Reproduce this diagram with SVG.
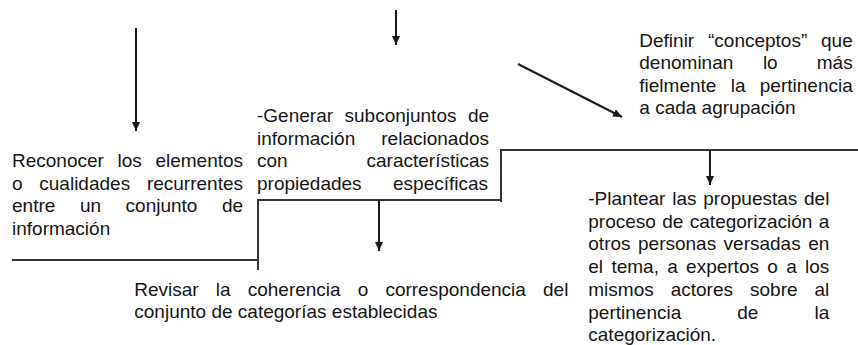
<svg xmlns="http://www.w3.org/2000/svg" width="858" height="345" viewBox="0 0 858 345">
<style>
.t{font-family:"Liberation Sans",Arial,sans-serif;font-size:19px;fill:#151515}
.ln{fill:none;stroke:#333;stroke-width:2}
.ar{fill:none;stroke:#1a1a1a;stroke-width:2}
</style>
<defs>
<marker id="ah" markerUnits="userSpaceOnUse" markerWidth="10" markerHeight="10" viewBox="0 0 10 10" refX="9" refY="5" orient="auto">
<path d="M0,1 L9,5 L0,9 Z" fill="#1a1a1a"/>
</marker>
</defs>
<rect width="858" height="345" fill="#fff"/>
<g id="connectors">
<polyline class="ln" points="12,260 258,260"/>
<polyline class="ln" points="258,270 258,200 501,200"/>
<polyline class="ln" points="501,202 501,150 858,150"/>
<line class="ar" x1="136" y1="28" x2="136" y2="131" marker-end="url(#ah)"/>
<line class="ar" x1="396" y1="10" x2="396" y2="45" marker-end="url(#ah)"/>
<line class="ar" x1="518" y1="64" x2="622" y2="117" marker-end="url(#ah)"/>
<line class="ar" x1="379" y1="200" x2="379" y2="251" marker-end="url(#ah)"/>
<line class="ar" x1="710" y1="150" x2="710" y2="185" marker-end="url(#ah)"/>
</g>
<g id="node-reconocer">
<text class="t"><tspan x="12" y="167">Reconocer</tspan><tspan x="117.5" y="167">los</tspan><tspan x="155.4" y="167">elementos</tspan><tspan x="12" y="189.5">o</tspan><tspan x="39.3" y="189.5">cualidades</tspan><tspan x="146.9" y="189.5">recurrentes</tspan><tspan x="12" y="212">entre</tspan><tspan x="79.9" y="212">un</tspan><tspan x="125.6" y="212">conjunto</tspan><tspan x="221.9" y="212">de</tspan><tspan x="12" y="234.5">información</tspan></text>
</g>
<g id="node-generar">
<text class="t"><tspan x="257" y="122">-Generar</tspan><tspan x="344.5" y="122">subconjuntos</tspan><tspan x="467.9" y="122">de</tspan><tspan x="257" y="144.5">información</tspan><tspan x="381.3" y="144.5">relacionados</tspan><tspan x="257" y="167">con</tspan><tspan x="366.5" y="167">características</tspan><tspan x="257" y="189.5">propiedades</tspan><tspan x="393" y="189.5">específicas</tspan></text>
</g>
<g id="node-definir">
<text class="t"><tspan x="639.3" y="47">Definir</tspan><tspan x="708" y="47">“conceptos”</tspan><tspan x="821" y="47">que</tspan><tspan x="639.3" y="69.3">denominan</tspan><tspan x="762.9" y="69.3">lo</tspan><tspan x="816.8" y="69.3">más</tspan><tspan x="639.3" y="91.6">fielmente</tspan><tspan x="730.7" y="91.6">la</tspan><tspan x="759.8" y="91.6">pertinencia</tspan><tspan x="639.3" y="114">a cada agrupación</tspan></text>
</g>
<g id="node-revisar">
<text class="t"><tspan x="134.3" y="295.5">Revisar</tspan><tspan x="215.8" y="295.5">la</tspan><tspan x="247.7" y="295.5">coherencia</tspan><tspan x="357.7" y="295.5">o</tspan><tspan x="385.4" y="295.5">correspondencia</tspan><tspan x="543" y="295.5">del</tspan><tspan x="134.3" y="317.5">conjunto de categorías establecidas</tspan></text>
</g>
<g id="node-plantear">
<text class="t"><tspan x="588.3" y="205">-Plantear</tspan><tspan x="672.2" y="205">las</tspan><tspan x="703.3" y="205">propuestas</tspan><tspan x="804" y="205">del</tspan><tspan x="588.3" y="227.7">proceso</tspan><tspan x="662.3" y="227.7">de</tspan><tspan x="689.8" y="227.7">categorización</tspan><tspan x="818.7" y="227.7">a</tspan><tspan x="588.3" y="250.4">otros</tspan><tspan x="638" y="250.4">personas</tspan><tspan x="723.6" y="250.4">versadas</tspan><tspan x="808.2" y="250.4">en</tspan><tspan x="588.3" y="273.1">el</tspan><tspan x="611.4" y="273.1">tema,</tspan><tspan x="667.2" y="273.1">a</tspan><tspan x="686.1" y="273.1">expertos</tspan><tspan x="767.3" y="273.1">o</tspan><tspan x="786.2" y="273.1">a</tspan><tspan x="805" y="273.1">los</tspan><tspan x="588.3" y="295.8">mismos</tspan><tspan x="670.7" y="295.8">actores</tspan><tspan x="750" y="295.8">sobre</tspan><tspan x="814.5" y="295.8">al</tspan><tspan x="588.3" y="318.5">pertinencia</tspan><tspan x="737.3" y="318.5">de</tspan><tspan x="814.5" y="318.5">la</tspan><tspan x="588.3" y="340.5">categorización.</tspan></text>
</g>
</svg>
